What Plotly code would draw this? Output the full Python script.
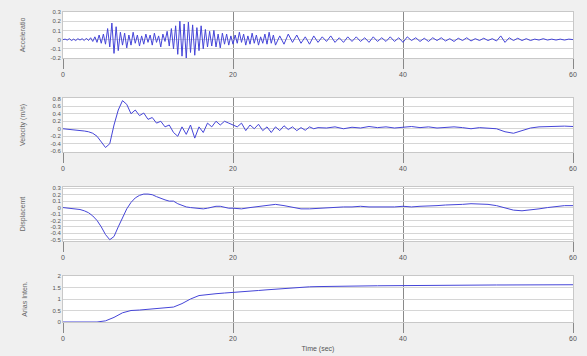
import numpy as np
import plotly.graph_objects as go
from plotly.subplots import make_subplots

# ---- data ----
t_acc = np.concatenate([np.arange(0, 25.001, 0.25), np.arange(25.5, 60.001, 0.5)])
acc = [0, 0.005, -0.005, 0.01, -0.01, 0.005, -0.01, 0.01, -0.005, 0.01, -0.01, 0.015, -0.01,
       0.02, -0.02, 0.03, -0.03, 0.05, -0.04, 0.06, -0.05,
       0.12, -0.08, 0.18, -0.15, 0.14, -0.12, 0.08, -0.06,
       0.07, -0.09, 0.05, -0.06, 0.08, -0.04, 0.05, -0.07, 0.04, -0.05, 0.06, -0.03,
       0.05, -0.06, 0.07, -0.03, 0.04, -0.08, 0.06, -0.02, 0.09, -0.07, 0.12, -0.1,
       0.15, -0.16, 0.2, -0.18, 0.17, -0.2, 0.19, -0.14, 0.16, -0.17, 0.13, -0.12, 0.15, -0.1, 0.11, -0.08,
       0.09, -0.07, 0.1, -0.08, 0.06, -0.09, 0.07, -0.05, 0.06, -0.06, 0.04, -0.05,
       0.05, -0.04, 0.08, -0.03, 0.06, -0.06, 0.04, -0.05, 0.07, -0.04, 0.05, -0.06, 0.03, -0.04, 0.06, -0.05, 0.08, -0.04, 0.05, -0.06,
       0.04, -0.05, 0.06, -0.03, 0.05, -0.04, 0.03, -0.05, 0.04, -0.03,
       0.03, -0.02, 0.04, -0.03, 0.02, -0.03, 0.03, -0.02, 0.03, -0.02, 0.02, -0.03, 0.03, -0.02, 0.02, -0.02, 0.03, -0.02, 0.02, -0.03,
       0.03, -0.01, 0.02, -0.02, 0.015, -0.02, 0.02, -0.01, 0.02, -0.015, 0.01, -0.02, 0.015, -0.01, 0.02, -0.015, 0.01, -0.01, 0.015, -0.01,
       0.01, -0.015, 0.04, -0.03, 0.02, -0.01, 0.015, -0.01, 0.01, -0.01, 0.005, -0.005, 0.01, -0.005, 0.005, -0.005, 0.005, -0.005, 0.005, 0]

t_vel = np.concatenate([np.arange(0, 30.001, 0.5), np.arange(31, 60.001, 1.0)])
vel = [0, -0.01, -0.02, -0.03, -0.04, -0.06, -0.08, -0.12, -0.2, -0.35, -0.5, -0.4, 0.1, 0.5, 0.75,
       0.65, 0.4, 0.5, 0.35, 0.42, 0.25, 0.3, 0.15, 0.2, 0.05, 0.1, -0.1, -0.2, 0.05, -0.15,
       0.1, -0.25, 0.05, -0.1, 0.15, 0.05, 0.2, 0.1, 0.2, 0.15, 0.1, 0.05, 0.15, -0.05, 0.1,
       0.0, 0.12, -0.05, 0.05, -0.1, 0.05, -0.05, 0.08, -0.02, 0.05, -0.05, 0.03, -0.04, 0.05, 0.0, 0.03,
       0.02, 0.05, 0.0, 0.04, 0.02, 0.06, 0.03, 0.05, 0.02, 0.04, 0.06, 0.03, 0.05, 0.02, 0.04,
       0.05, 0.03, 0.0, 0.03, 0.02, 0.0, -0.08, -0.12, -0.05, 0.02, 0.05, 0.06, 0.05, 0.07, 0.06]

t_disp = np.concatenate([np.arange(0, 20.001, 0.5), np.arange(21, 60.001, 1.0)])
disp = [0, -0.005, -0.01, -0.02, -0.03, -0.05, -0.08, -0.13, -0.2, -0.3, -0.42, -0.5, -0.45, -0.3,
        -0.15, -0.02, 0.08, 0.15, 0.19, 0.21, 0.21, 0.2, 0.17, 0.14, 0.12, 0.1, 0.1, 0.06, 0.03,
        0.01, 0.0, -0.01, -0.02, -0.02, -0.01, 0.01, 0.02, 0.02, 0.0, -0.01, -0.01,
        -0.02, 0.0, 0.02, 0.04, 0.05, 0.03, 0.0, -0.02, -0.02, -0.01, 0.0, 0.0, 0.01, 0.01, 0.02,
        0.01, 0.01, 0.0, 0.01, 0.02, 0.01, 0.02, 0.02, 0.03, 0.04, 0.04, 0.05, 0.06, 0.06, 0.05,
        0.03, 0.0, -0.04, -0.05, -0.04, -0.02, 0.0, 0.02, 0.03, 0.03]

t_arias = np.arange(0, 60.001, 1.0)
arias = [0, 0, 0, 0, 0, 0.05, 0.2, 0.4, 0.5, 0.52, 0.55, 0.58, 0.6, 0.65, 0.8, 1.0, 1.15, 1.2,
         1.23, 1.26, 1.28, 1.31, 1.34, 1.37, 1.4, 1.43, 1.46, 1.49, 1.51, 1.53, 1.54,
         1.55, 1.555, 1.56, 1.565, 1.57, 1.57, 1.575, 1.58, 1.58, 1.585, 1.59, 1.59, 1.595, 1.595,
         1.6, 1.6, 1.6, 1.605, 1.605, 1.61, 1.61, 1.61, 1.615, 1.615, 1.615, 1.62, 1.62, 1.62, 1.62, 1.62]

x_ticks = [0, 20, 40, 60]
acc_ticks = [-0.2, -0.1, 0, 0.1, 0.2, 0.3]
vel_ticks = [-0.6, -0.4, -0.2, 0, 0.2, 0.4, 0.6, 0.8]
disp_ticks = [-0.5, -0.4, -0.3, -0.2, -0.1, 0, 0.1, 0.2, 0.3]
arias_ticks = [0, 0.5, 1, 1.5, 2]

titles = ["Acceleratio", "Velocity (m/s)", "Displacemt", "Arias Inten."]
x_title = "Time (sec)"

# ---- figure ----
fig = make_subplots(rows=4, cols=1)
series = [(t_acc, acc), (t_vel, vel), (t_disp, disp), (t_arias, arias)]
for i, (tx, yv) in enumerate(series):
    fig.add_trace(go.Scatter(x=tx, y=yv, mode="lines",
                             line=dict(color="#4545d8", width=1), showlegend=False),
                  row=i + 1, col=1)

H = 356
px_bounds = [(12, 58), (98, 152), (187, 241), (276, 322)]
yranges = [[-0.2, 0.3], [-0.62, 0.82], [-0.52, 0.32], [0, 2]]
yticks = [acc_ticks, vel_ticks, disp_ticks, arias_ticks]

for i in range(4):
    top, bot = px_bounds[i]
    yname = "yaxis" if i == 0 else f"yaxis{i+1}"
    xname = "xaxis" if i == 0 else f"xaxis{i+1}"
    fig.layout[yname].update(
        domain=[1 - bot / H, 1 - top / H], range=yranges[i],
        tickvals=yticks[i], ticktext=[f"{v:g}" for v in yticks[i]],
        tickfont=dict(size=6, color="#555"), showgrid=True, gridcolor="#d6d6d6",
        gridwidth=1, zeroline=False, showline=True, linecolor="#c8c8c8",
        mirror=True, ticks="", title=dict(text=titles[i], font=dict(size=7, color="#666"),
                                          standoff=24))
    fig.layout[xname].update(
        range=[0, 60], tickvals=x_ticks, ticks="outside", ticklen=10, tickcolor="#888",
        tickfont=dict(size=7, color="#555"), showgrid=True, gridcolor="#8a8a8a",
        zeroline=False, showline=True, linecolor="#c8c8c8", mirror=True)

fig.layout["xaxis4"].update(title=dict(text=x_title, font=dict(size=7, color="#555"), standoff=4))

fig.update_layout(width=587, height=356, margin=dict(l=63, r=14, t=0, b=0, autoexpand=False),
                  paper_bgcolor="#f0f0f0", plot_bgcolor="#ffffff",
                  font=dict(family="Liberation Sans, Arial, sans-serif"))

fig.write_html("out.html", config={"displayModeBar": False},
               post_script="document.body.style.margin='0';document.body.style.background='#f0f0f0';")
